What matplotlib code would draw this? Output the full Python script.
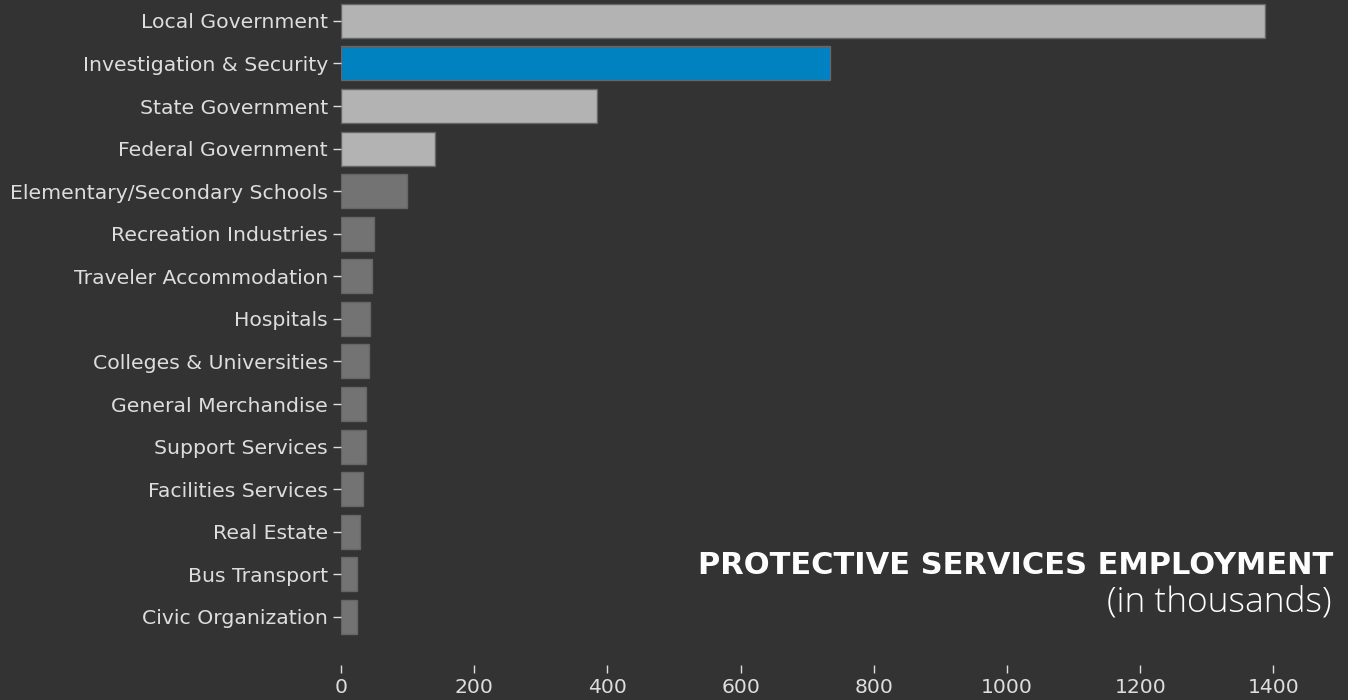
import matplotlib
matplotlib.use("Agg")
import matplotlib.pyplot as plt

categories = ["Local Government", "Investigation & Security", "State Government",
              "Federal Government", "Elementary/Secondary Schools", "Recreation Industries",
              "Traveler Accommodation", "Hospitals", "Colleges & Universities",
              "General Merchandise", "Support Services", "Facilities Services",
              "Real Estate", "Bus Transport", "Civic Organization"]
values = [1387, 734, 385, 141, 99, 49, 46, 44, 42, 37, 37, 33, 29, 24, 24]
groups = ["gov", "highlight", "gov", "gov", "other", "other", "other", "other",
          "other", "other", "other", "other", "other", "other", "other"]
xticks = [0, 200, 400, 600, 800, 1000, 1200, 1400]

bg = "#333333"
palette = {"gov": "#b3b3b3", "highlight": "#0082c0", "other": "#737373"}
colors = [palette[g] for g in groups]

fig = plt.figure(figsize=(13.48, 7.0), dpi=100, facecolor=bg)
ax = fig.add_axes([0.2530, 0.05, 0.7211, 0.95], facecolor=bg)

ax.barh(range(len(categories)), values, height=0.8, color=colors,
        edgecolor="#666666", linewidth=1)
ax.set_yticks(range(len(categories)))
ax.set_yticklabels(categories)
ax.set_ylim(15.13, -0.49)
ax.set_xlim(0, 1459.5)
ax.set_xticks(xticks)

for s in ax.spines.values():
    s.set_visible(False)
ax.tick_params(colors="#dddddd", labelcolor="#dddddd", labelsize=14.7, length=6, width=1)

fig.text(0.9889, 0.180, "PROTECTIVE SERVICES EMPLOYMENT", ha="right", va="baseline",
         color="white", fontsize=22, fontweight="bold", family="DejaVu Sans")
fig.text(0.9875, 0.127, "(in thousands)", ha="right", va="baseline",
         color="white", fontsize=25.5, fontweight="light", family="Open Sans")

fig.savefig("out.png", dpi=100, facecolor=bg)
